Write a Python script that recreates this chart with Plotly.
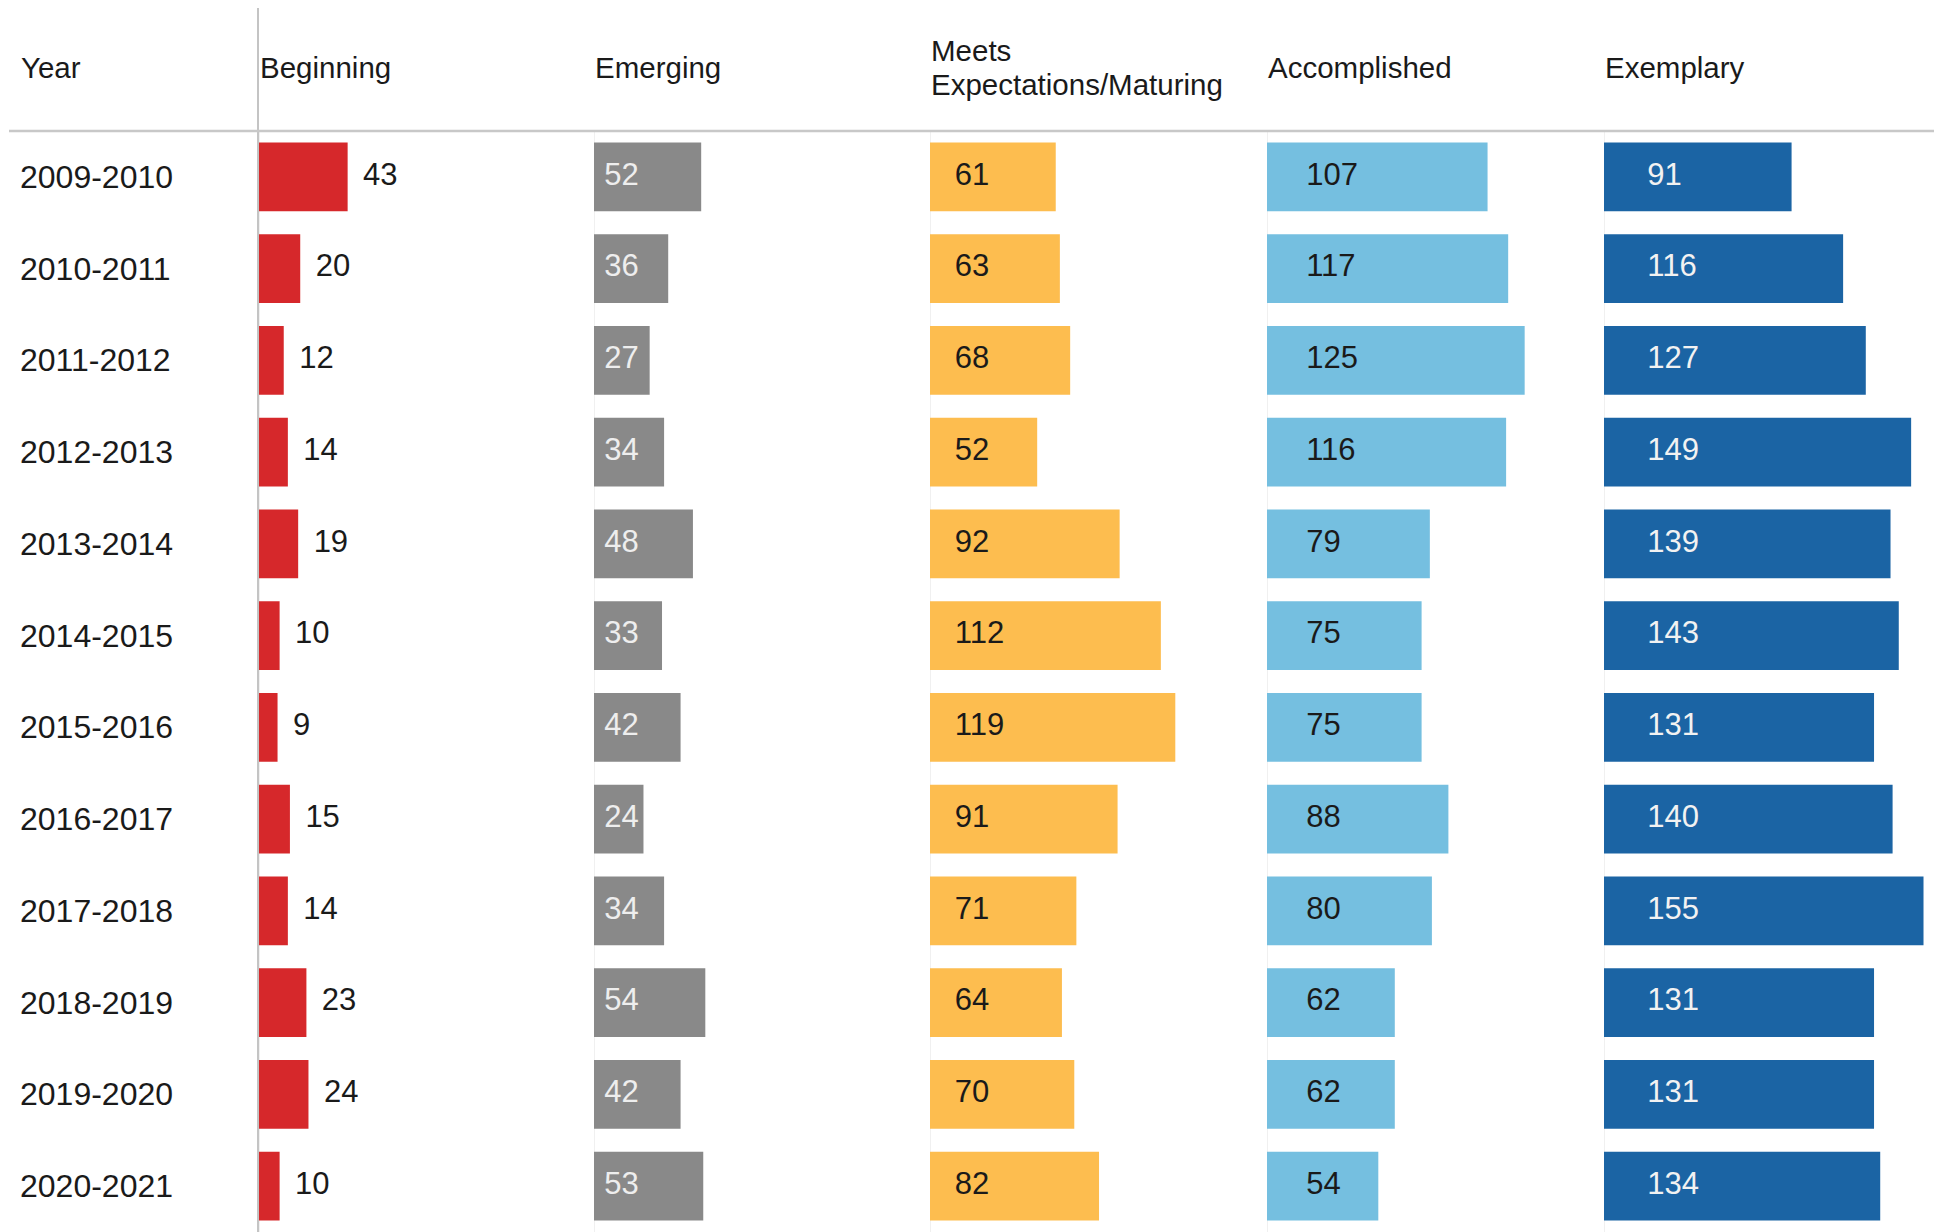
import plotly.graph_objects as go

years = ["2009-2010", "2010-2011", "2011-2012", "2012-2013", "2013-2014", "2014-2015",
         "2015-2016", "2016-2017", "2017-2018", "2018-2019", "2019-2020", "2020-2021"]
beginning = [43, 20, 12, 14, 19, 10, 9, 15, 14, 23, 24, 10]
emerging = [52, 36, 27, 34, 48, 33, 42, 24, 34, 54, 42, 53]
meets = [61, 63, 68, 52, 92, 112, 119, 91, 71, 64, 70, 82]
accomplished = [107, 117, 125, 116, 79, 75, 75, 88, 80, 62, 62, 54]
exemplary = [91, 116, 127, 149, 139, 143, 131, 140, 155, 131, 131, 134]

headers = ["Beginning", "Emerging", "Meets<br>Expectations/Maturing", "Accomplished", "Exemplary"]
series = [beginning, emerging, meets, accomplished, exemplary]
colors = ["#d6282b", "#898989", "#fdbd4f", "#75bfe0", "#1b64a4"]
label_colors = ["#1a1a1a", "#eeeeee", "#1a1a1a", "#1a1a1a", "#f2f2f2"]
label_offset = [None, 5, 12, 19, 21]   # inside-label offset from bar start (data units)
outside_gap = 7.5

# page has an 8px body margin: figure origin sits at (8, 8) on screen
OX, OY = 8, 8
W, H = 1934, 1224


def px(sx):
    return (sx - OX) / W


def py(sy):
    return 1 - (sy - OY) / H


panel_left = [259, 594, 930, 1267, 1604]
panel_w = 336
xmax = 163
top_px = 131

FONT = "Liberation Sans"
TXT = "#1a1a1a"

fig = go.Figure()
ydom = [0, py(top_px)]

for i, (vals, col) in enumerate(zip(series, colors)):
    ax = "" if i == 0 else str(i + 1)
    fig.add_trace(go.Bar(
        x=vals, y=years, orientation="h", marker=dict(color=col, line=dict(width=0)),
        width=0.75, xaxis="x" + ax, yaxis="y", showlegend=False, hoverinfo="x+y"))
    if label_offset[i] is None:
        tx = [v + outside_gap for v in vals]
    else:
        tx = [label_offset[i]] * len(vals)
    fig.add_trace(go.Scatter(
        x=tx, y=years, mode="text", text=[str(v) for v in vals],
        textposition="middle right",
        textfont=dict(family=FONT, size=31, color=label_colors[i]),
        xaxis="x" + ax, yaxis="y", showlegend=False, hoverinfo="skip"))
    d0 = px(panel_left[i])
    d1 = px(panel_left[i] + panel_w)
    fig.layout["xaxis" + ax] = dict(
        domain=[d0, min(d1, 1)], range=[0, xmax], showgrid=False, showticklabels=False,
        zeroline=True, zerolinecolor="#f0f0f0", zerolinewidth=1, showline=False,
        ticks="", fixedrange=True, anchor="y")
    lines = headers[i].split("<br>")
    if len(lines) == 1:
        ys = [67]
    else:
        ys = [51, 84]
    for line, sy in zip(lines, ys):
        fig.add_annotation(
            x=d0, y=py(sy), xref="paper", yref="paper", text=line,
            xanchor="left", yanchor="middle", showarrow=False, align="left",
            font=dict(family=FONT, size=29.5, color=TXT), xshift=-1)

fig.add_annotation(x=px(19), y=py(67), xref="paper", yref="paper", text="Year",
                   xanchor="left", yanchor="middle", showarrow=False,
                   font=dict(family=FONT, size=29.5, color=TXT))
for yv in years:
    fig.add_annotation(x=px(18), y=yv, xref="paper", yref="y", text=yv,
                       xanchor="left", yanchor="middle", showarrow=False,
                       font=dict(family=FONT, size=32, color=TXT))

fig.update_layout(
    width=W, height=H, margin=dict(l=0, r=0, t=0, b=0),
    paper_bgcolor="white", plot_bgcolor="white", barmode="overlay",
    yaxis=dict(domain=ydom, categoryorder="array", categoryarray=years,
               range=[len(years) - 0.5, -0.5], showticklabels=False, showgrid=False,
               zeroline=False, ticks="", fixedrange=True),
    shapes=[
        dict(type="line", xref="paper", yref="paper", x0=px(258), x1=px(258),
             y0=0, y1=py(8), line=dict(color="#c4c4c4", width=2)),
        dict(type="line", xref="paper", yref="paper", x0=px(9), x1=px(1940),
             y0=py(top_px), y1=py(top_px), line=dict(color="#c8c8c8", width=2.5)),
        dict(type="line", xref="paper", yref="paper", x0=px(1939), x1=px(1939),
             y0=0, y1=1, line=dict(color="#d4d4d4", width=2)),
    ],
)

fig.write_html("out.html")
